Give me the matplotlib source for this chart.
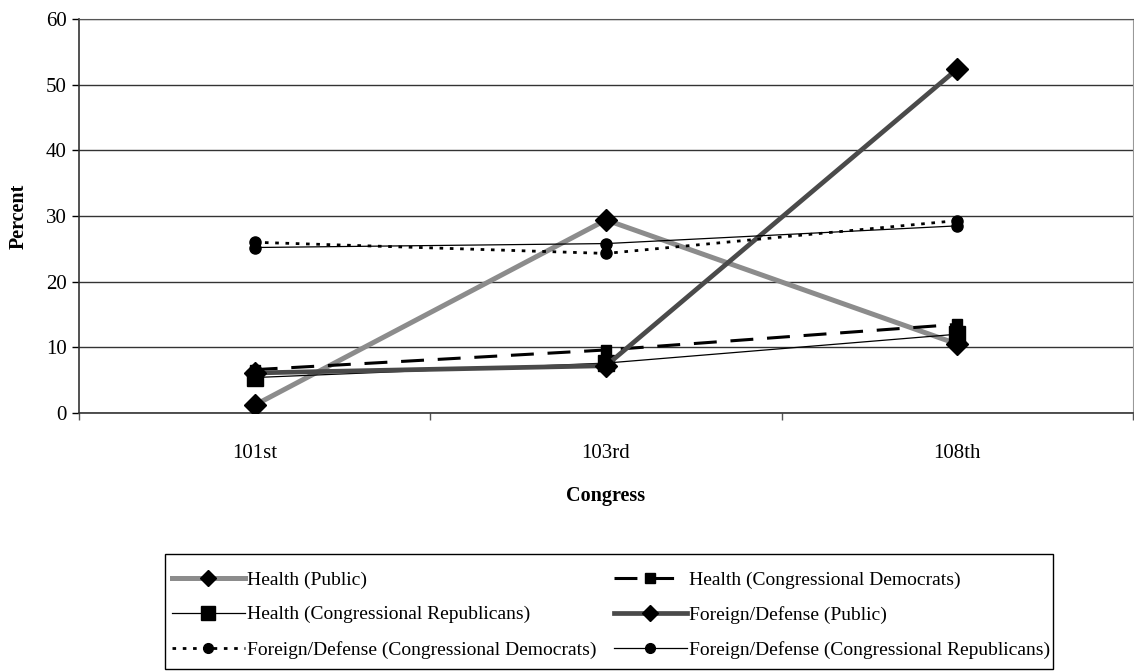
import numpy as np
import matplotlib.pyplot as plt
from matplotlib.patches import Rectangle

plt.rcParams['font.family'] = ['Liberation Serif', 'DejaVu Serif']

congress = ['101st', '103rd', '108th']

health_public = [1.2, 29.4, 10.5]
health_dems = [6.6, 9.6, 13.5]
health_reps = [5.4, 7.6, 12.0]
foreign_public = [6.1, 7.2, 52.4]
foreign_dems = [26.0, 24.3, 29.3]
foreign_reps = [25.2, 25.8, 28.5]

labels = ['Health (Public)',
          'Health (Congressional Democrats)',
          'Health (Congressional Republicans)',
          'Foreign/Defense (Public)',
          'Foreign/Defense (Congressional Democrats)',
          'Foreign/Defense (Congressional Republicans)']

W, H = 1134, 671
fig = plt.figure(figsize=(W / 100, H / 100), dpi=100)
ax = fig.add_axes([79 / W, 1 - 413 / H, 1 - 80 / W, (413 - 19) / H])

x = np.arange(len(congress))

# series styles: colour, width, dashes, marker, marker size (plot / legend)
styles = [
    dict(color='#8c8c8c', lw=3.6, ls='-', marker='D', ms=11, lms=8),
    dict(color='black', lw=2.2, ls=(0, (7.5, 4.5)), marker='s', ms=7.5, lms=6.5),
    dict(color='black', lw=0.9, ls='-', marker='s', ms=11, lms=10),
    dict(color='#4a4a4a', lw=3.4, ls='-', marker='D', ms=11, lms=8),
    dict(color='black', lw=2.0, ls=(0, (1.3, 2.4)), marker='o', ms=8, lms=7),
    dict(color='black', lw=0.9, ls='-', marker='o', ms=8, lms=7),
]
series = [health_public, health_dems, health_reps,
          foreign_public, foreign_dems, foreign_reps]

handles = []
for vals, st, lab in zip(series, styles, labels):
    h, = ax.plot(x, vals, color=st['color'], lw=st['lw'], ls=st['ls'],
                 marker=st['marker'], ms=st['ms'], mfc='black', mec='black',
                 dash_capstyle='butt', label=lab, zorder=3)
    handles.append(h)

ax.set_xlim(-0.5, 2.5)
ax.set_ylim(0, 60)
ax.set_yticks(range(0, 61, 10))
ax.set_xticks(x)
ax.set_xticklabels(congress)
ax.set_xticks([-0.5, 0.5, 1.5, 2.5], minor=True)
ax.tick_params(axis='x', which='major', length=0, pad=22, labelsize=15)
ax.tick_params(axis='x', which='minor', length=5, width=1, color='#555555')
ax.tick_params(axis='y', length=5, width=1, labelsize=15, pad=4)

ax.yaxis.grid(True, color='#333333', lw=1)
ax.set_axisbelow(True)
ax.spines['right'].set_color('#999999')
ax.spines['top'].set_color('#555555')
ax.spines['left'].set_color('#333333')
ax.spines['bottom'].set_color('#333333')
ax.spines['left'].set_linewidth(1.2)
ax.spines['bottom'].set_linewidth(1.2)

ax.set_ylabel('Percent', fontsize=14.5, fontweight='bold', labelpad=12)
ax.set_xlabel('Congress', fontsize=14.5, fontweight='bold', labelpad=17)

# legend reads across rows, so interleave for column-major filling
order = [0, 2, 4, 1, 3, 5]
leg = fig.legend([handles[i] for i in order], [labels[i] for i in order],
                 loc='upper left', bbox_to_anchor=(172 / W, 1 - 571 / H),
                 ncol=2, numpoints=1, fontsize=14, frameon=False,
                 handlelength=3.75, handletextpad=0.1, columnspacing=0.9,
                 labelspacing=0.88, borderpad=0, borderaxespad=0)
for lh, i in zip(leg.legend_handles, order):
    lh.set_markersize(styles[i]['lms'])

# legend box
fig.patches.append(Rectangle((165 / W, 1 - 669 / H), (1053 - 165) / W,
                             (669 - 554) / H, transform=fig.transFigure,
                             fill=False, ec='black', lw=1))

fig.savefig('out.png', dpi=100)
